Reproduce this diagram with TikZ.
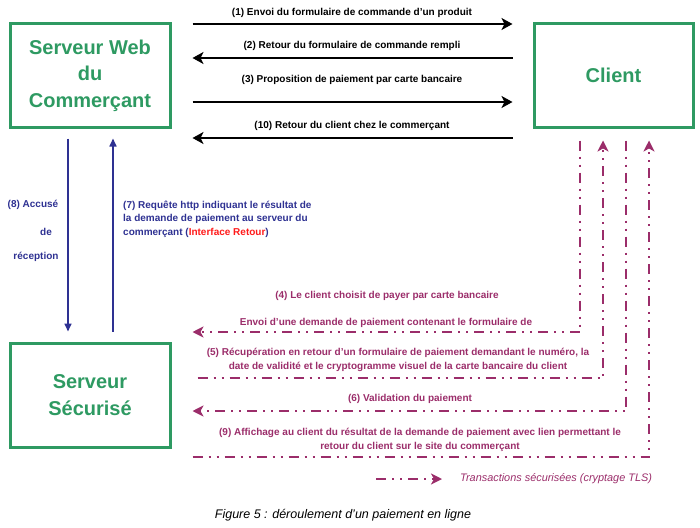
\documentclass[tikz,border=0pt]{standalone}
\usepackage{fontspec}
\setmainfont{Liberation Sans}
\usetikzlibrary{arrows.meta}
\definecolor{grn}{HTML}{2E9A62}
\definecolor{navy}{HTML}{2E3192}
\definecolor{pur}{HTML}{9B2D6A}
\definecolor{rd}{HTML}{FF1A1A}
\tikzset{
  box/.style={draw=grn, line width=3pt, text=grn, font=\fontsize{20}{26.5}\selectfont\bfseries, align=center, inner sep=0pt},
  lbl/.style={font=\fontsize{10}{13.5}\selectfont\bfseries, inner sep=0pt},
  plbl/.style={lbl, text=pur, align=center, font=\fontsize{10}{14}\selectfont\bfseries},
  blbl/.style={lbl, text=navy},
  blk/.style={line width=2.2pt, -{Stealth[length=11pt,width=12pt,inset=3pt]}},
  blu/.style={line width=1.6pt, navy, -{Triangle[length=8pt,width=7pt]}},
  sec/.style={line width=2pt, pur, dash pattern=on 10pt off 6pt on 2pt off 6pt on 2pt off 6pt},
  sectip/.style={sec, -{Stealth[length=11pt,width=11pt,inset=3pt]}}
}
\begin{document}
\begin{tikzpicture}[x=1pt,y=-1pt]
\useasboundingbox (0,0) rectangle (700,527);
% boxes
\node[box, minimum width=160pt, minimum height=103pt] (web) at (90,75.5) {Serveur Web\\du\\Commerçant};
\node[box, minimum width=159pt, minimum height=103pt] (client) at (613.5,75.5) {Client};
\node[box, minimum width=160pt, minimum height=104pt] (secure) at (90,395) {Serveur\\Sécurisé};
% black exchanges
\draw[blk, shorten <=21pt, shorten >=20pt] (web.east |- 0,24) -- (client.west |- 0,24);
\draw[blk, shorten <=20pt, shorten >=21pt] (client.west |- 0,58) -- (web.east |- 0,58);
\draw[blk, shorten <=21pt, shorten >=20pt] (web.east |- 0,102) -- (client.west |- 0,102);
\draw[blk, shorten <=20pt, shorten >=21pt] (client.west |- 0,138) -- (web.east |- 0,138);
\node[lbl] (l1) at (352,13) {(1) Envoi du formulaire de commande d’un produit};
\node[lbl] (l2) at (352,46) {(2) Retour du formulaire de commande rempli};
\node[lbl] (l3) at (352,80) {(3) Proposition de paiement par carte bancaire};
\node[lbl] (l10) at (352,126) {(10) Retour du client chez le commerçant};
% blue exchanges
\draw[blu, shorten <=10pt, shorten >=10pt] (web.south -| 68,0) -- (secure.north -| 68,0);
\draw[blu, shorten <=10pt, shorten >=10pt] (secure.north -| 113,0) -- (web.south -| 113,0);
\node[blbl] (l8a) at (33,205) {(8) Accusé};
\node[blbl] (l8b) at (46,232) {de};
\node[blbl] (l8c) at (36,257) {réception};
\node[blbl, align=left, anchor=west] (l7) at (123,219) {(7) Requête http indiquant le résultat de\\la demande de paiement au serveur du\\commerçant (\textcolor{rd}{Interface Retour})};
% secured exchanges
\coordinate (c4) at (580,332);
\coordinate (c5) at (603,378);
\coordinate (c6) at (626,411);
\coordinate (c9) at (649,457);
\draw[sectip, shorten >=21pt] (client.south -| c4) ++(0,12) -- (c4) -- (secure.east |- c4);
\draw[sectip] (secure.east |- c5) ++(26,0) -- (c5) -- ([yshift=-12pt]client.south -| c5);
\draw[sectip, shorten >=21pt] (client.south -| c6) ++(0,12) -- (c6) -- (secure.east |- c6);
\draw[sectip] (secure.east |- c9) ++(21,0) -- (c9) -- ([yshift=-12pt]client.south -| c9);
\node[plbl] (l4) at (387,296) {(4) Le client choisit de payer par carte bancaire};
\node[plbl] (l4b) at (386,323) {Envoi d’une demande de paiement contenant le formulaire de};
\node[plbl] (l5) at (398,360) {(5) Récupération en retour d’un formulaire de paiement demandant le numéro, la\\date de validité et le cryptogramme visuel de la carte bancaire du client};
\node[plbl] (l6) at (410,399) {(6) Validation du paiement};
\node[plbl] (l9) at (420,440) {(9) Affichage au client du résultat de la demande de paiement avec lien permettant le\\retour du client sur le site du commerçant};
% legend
\coordinate (lg1) at (376,479);
\coordinate (lg2) at (442,479);
\draw[sectip] (lg1) -- (lg2);
\node[anchor=west, inner sep=0pt, text=pur, font=\fontsize{10.9}{12}\selectfont\itshape] (lgt) at (460,479) {Transactions sécurisées (cryptage TLS)};
% caption
\node[inner sep=0pt, font=\fontsize{12.5}{14}\selectfont\itshape] (cap) at (343,515) {Figure 5 : déroulement d'un paiement en ligne};
\end{tikzpicture}
\end{document}
